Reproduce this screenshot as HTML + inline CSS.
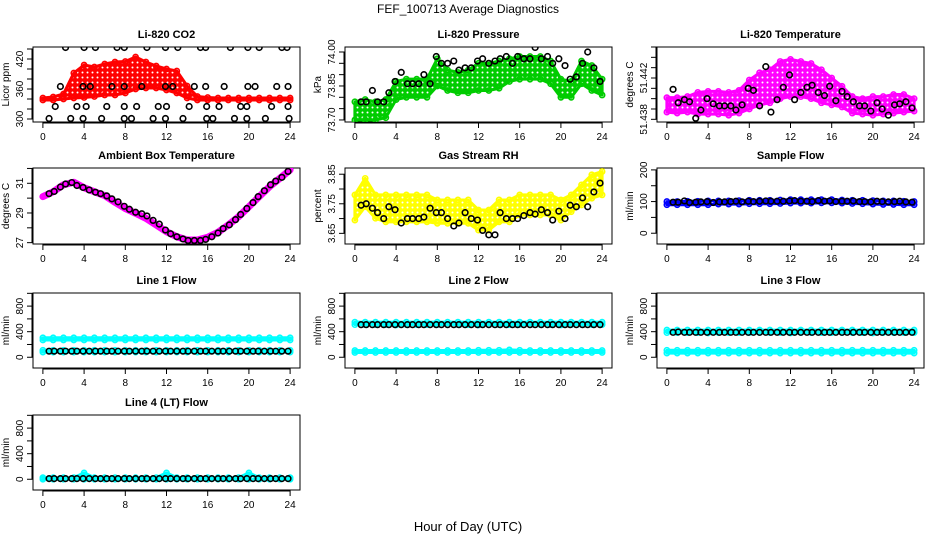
<!DOCTYPE html>
<html><head><meta charset="utf-8"><title>FEF_100713 Average Diagnostics</title>
<style>
html,body{margin:0;padding:0;background:#fff;}
svg{display:block;font-family:"Liberation Sans",Arial,sans-serif;}
</style></head>
<body>
<svg id="chart" width="936" height="540" viewBox="0 0 936 540" xmlns="http://www.w3.org/2000/svg">
<defs id="defs"></defs>
<text x="468" y="13" font-size="12" text-anchor="middle">FEF_100713  Average Diagnostics</text>
<text x="468" y="531" font-size="13" text-anchor="middle">Hour of Day (UTC)</text>
</svg>
<script>
// ---- data ----
const hours = [0,1,2,3,4,5,6,7,8,9,10,11,12,13,14,15,16,17,18,19,20,21,22,23,24];
const xTicks = [0,4,8,12,16,20,24];
const blkT = [0.6,1.1,1.7,2.2,2.8,3.3,3.9,4.5,5.1,5.6,6.2,6.7,7.3,7.9,8.4,9.0,9.6,10.1,10.7,11.3,11.9,12.4,13.0,13.6,14.1,14.7,15.3,15.8,16.4,17.0,17.5,18.1,18.7,19.2,19.8,20.4,20.9,21.5,22.1,22.6,23.2,23.8];

const co2Lo = [338,338,340,342,343,345,348,348,352,360,362,362,358,352,342,338,338,338,338,338,338,338,338,338,338];
const co2Hi = [342,344,350,392,408,404,410,414,415,424,414,406,400,396,366,345,343,342,342,342,342,342,342,342,342];
const co2BlkT = [2.2,4.0,5.1,7.2,7.9,10.1,11.9,13.1,15.3,15.8,18.2,19.9,21.0,23.2,23.7, 1.7,3.9,4.6,6.7,7.9,9.6,11.9,12.6,14.7,15.8,17.6,19.9,20.6,22.7,23.8, 1.2,3.3,4.2,6.2,7.9,9.1,11.2,12.0,14.2,15.9,17.1,19.2,19.8,22.2,23.8, 0.6,2.7,3.9,5.7,7.9,8.6,10.7,11.9,13.6,15.9,16.5,18.6,19.8,21.6,23.9];
const co2BlkV = [443,443,443,443,443,443,443,443,443,443,443,443,443,443,443, 365,365,365,365,365,365,365,365,365,365,365,365,365,365,365, 325,325,325,325,325,325,325,325,325,325,325,325,325,325,325, 301,301,301,301,301,301,301,301,301,301,301,301,301,301,301];

const presLo = [73.70,73.70,73.70,73.71,73.79,73.80,73.80,73.80,73.85,73.83,73.82,73.82,73.83,73.83,73.84,73.87,73.88,73.88,73.88,73.86,73.80,73.80,73.86,73.83,73.81];
const presHi = [73.78,73.79,73.78,73.79,73.87,73.88,73.88,73.88,73.97,73.92,73.91,73.92,73.95,73.95,73.96,73.97,73.98,73.98,73.98,73.96,73.88,73.87,73.96,73.94,73.88];
const presBlk = [73.78,73.78,73.83,73.78,73.78,73.82,73.87,73.91,73.86,73.86,73.86,73.90,73.86,73.98,73.95,73.95,73.96,73.92,73.93,73.93,73.96,73.97,73.95,73.96,73.97,73.98,73.95,73.98,73.97,73.97,74.02,73.97,73.98,73.95,73.97,73.94,73.88,73.89,73.95,74.00,73.93,73.87];

const tempLo = [51.4387,51.4386,51.4387,51.4385,51.4385,51.4385,51.4384,51.4386,51.4390,51.4394,51.4396,51.4400,51.4402,51.4402,51.4400,51.4396,51.4394,51.4392,51.4386,51.4385,51.4384,51.4385,51.4386,51.4387,51.4388];
const tempHi = [51.4401,51.4401,51.4402,51.4406,51.4407,51.4407,51.4406,51.4408,51.4418,51.4425,51.4428,51.4436,51.4438,51.4436,51.4434,51.4428,51.4420,51.4412,51.4402,51.4400,51.4402,51.4402,51.4404,51.4404,51.4400];
const tempBlk = [51.4409,51.4396,51.4399,51.4397,51.4381,51.4389,51.4400,51.4395,51.4393,51.4393,51.4393,51.4389,51.4394,51.4410,51.4408,51.4393,51.4431,51.4387,51.4399,51.4411,51.4423,51.4399,51.4406,51.4411,51.4413,51.4406,51.4403,51.4412,51.4398,51.4407,51.4402,51.4397,51.4393,51.4393,51.4388,51.4396,51.4390,51.4384,51.4394,51.4395,51.4397,51.4391];

const ambVal = [30.1,30.43,30.9,31.07,30.7,30.43,30.17,29.72,29.3,28.98,28.64,28.19,27.74,27.4,27.18,27.18,27.36,27.7,28.19,28.75,29.42,30.1,30.77,31.33,31.9];
const ambBlk = [30.3,30.45,30.75,30.95,31.05,30.85,30.72,30.55,30.4,30.3,30.15,29.95,29.75,29.45,29.25,29.05,28.95,28.8,28.5,28.25,27.85,27.6,27.4,27.25,27.15,27.15,27.15,27.22,27.4,27.65,27.95,28.2,28.55,28.9,29.3,29.7,30.1,30.5,30.9,31.15,31.4,31.8];

const rhLo = [3.695,3.740,3.701,3.689,3.689,3.689,3.689,3.689,3.684,3.684,3.684,3.684,3.661,3.661,3.689,3.689,3.712,3.712,3.712,3.712,3.695,3.723,3.746,3.769,3.780];
const rhHi = [3.780,3.836,3.780,3.780,3.780,3.780,3.780,3.780,3.763,3.763,3.763,3.763,3.729,3.729,3.763,3.763,3.780,3.780,3.780,3.780,3.763,3.780,3.814,3.848,3.859];
const rhBlk = [3.745,3.75,3.735,3.72,3.70,3.74,3.73,3.685,3.70,3.70,3.70,3.705,3.735,3.72,3.72,3.70,3.675,3.685,3.72,3.70,3.695,3.66,3.645,3.645,3.72,3.70,3.70,3.70,3.71,3.72,3.715,3.73,3.72,3.695,3.725,3.70,3.745,3.74,3.77,3.74,3.79,3.82];

const sfLo = [90,90,90,90,90,92,92,92,93,93,93,94,95,95,95,96,96,95,94,93,92,91,91,90,90];
const sfHi = [100,100,101,101,102,102,102,103,104,104,104,105,106,106,106,106,106,105,104,104,103,102,102,101,100];
const sfBlk = [98,98,102,97,98,99,100,97,99,99,100,101,99,101,100,101,102,101,101,101,102,103,101,101,100,103,101,102,100,101,101,102,100,100,99,101,100,99,100,101,99,98];

const l1HiLo = [270,270,270,270,270,270,270,270,270,270,270,270,270,270,270,270,270,270,270,270,270,270,270,270,270];
const l1HiHi = [305,305,305,305,305,305,305,305,305,305,305,305,305,305,305,305,305,305,305,305,305,305,305,305,305];
const l1LoLo = [80,80,80,80,80,80,80,80,80,80,80,80,80,80,80,80,80,80,80,80,80,80,80,80,80];
const l1LoHi = [110,110,110,110,110,110,110,110,110,110,110,110,110,110,110,110,110,110,110,110,110,110,110,110,110];
const l1Blk = [95,95,95,95,95,95,95,95,95,95,95,95,95,95,95,95,95,95,95,95,95,95,95,95,95,95,95,95,95,95,95,95,95,95,95,95,95,95,95,95,95,95];

const l2HiLo = [510,510,510,510,505,510,510,510,510,510,510,510,505,510,510,510,510,510,510,510,505,510,510,510,510];
const l2HiHi = [550,550,550,550,550,550,550,550,550,550,550,550,550,550,550,550,550,550,550,550,550,550,550,550,550];
const l2LoLo = [75,75,75,75,75,75,75,75,75,75,75,75,75,75,75,75,75,75,75,75,75,75,75,75,75];
const l2LoHi = [105,105,105,105,105,105,105,105,105,105,105,105,110,110,110,115,110,105,105,105,105,105,105,105,105];
const l2Blk = [510,510,510,510,510,510,510,510,510,510,510,510,510,510,510,510,510,510,510,510,510,510,510,510,510,510,510,510,510,510,510,510,510,510,510,510,510,510,510,510,510,510];

const l3HiLo = [385,385,385,385,380,385,385,385,385,385,385,385,380,385,385,385,385,385,385,385,380,385,385,385,385];
const l3HiHi = [425,425,425,425,425,425,425,425,425,425,425,425,425,425,425,425,425,425,425,425,425,425,425,425,425];
const l3LoLo = [65,65,65,65,65,65,65,65,65,65,65,65,65,65,65,65,65,65,65,65,65,65,65,65,65];
const l3LoHi = [110,110,110,110,110,110,110,110,110,110,110,110,110,110,110,110,110,110,110,110,110,110,110,110,110];
const l3Blk = [390,395,390,390,390,390,390,390,390,390,390,390,390,390,390,390,390,390,390,390,390,390,390,390,390,390,390,390,390,390,390,390,390,390,390,390,390,390,390,390,390,390];

const l4Lo = [0,0,0,0,0,0,0,0,0,0,0,0,0,0,0,0,0,0,0,0,0,0,0,0,0];
const l4Hi = [25,25,25,25,100,25,25,25,25,25,25,25,100,25,25,25,25,25,25,25,100,25,25,25,25];
const l4Blk = [10,10,10,10,10,10,10,10,10,10,10,10,10,10,10,10,10,10,10,10,10,10,10,10,10,10,10,10,10,10,10,10,10,10,10,10,10,10,10,10,10,10];

// ---- drawing ----
const NS = "http://www.w3.org/2000/svg";
const svg = document.getElementById('chart');
const defs = document.getElementById('defs');
function mk(tag, attrs, parent){
  const e = document.createElementNS(NS, tag);
  for (const k in attrs) e.setAttribute(k, attrs[k]);
  (parent||svg).appendChild(e);
  return e;
}
const patIds = {};
function pattern(color){
  if (patIds[color]) return patIds[color];
  const id = 'pat' + Object.keys(patIds).length;
  const pt = mk('pattern', {id:id, width:5, height:5, patternUnits:'userSpaceOnUse'}, defs);
  mk('rect', {x:0, y:0, width:5, height:5, fill:color}, pt);
  mk('circle', {cx:2.5, cy:2.5, r:1, fill:'#fff'}, pt);
  patIds[color] = id;
  return id;
}
const cols = [[33,300],[345,612],[657,924]];
const rows = [[47,122],[168,244],[293,368],[415,490]];
const X0 = -0.96, X1 = 24.96;

function panel(ci, ri, title, ylab, yMin, yMax, yTicks, yLabels){
  const [L,R] = cols[ci], [T,B] = rows[ri];
  const g = mk('g', {});
  
  
  const xs = h => L + (h - X0) / (X1 - X0) * (R - L);
  const ys = v => B - (v - yMin) / (yMax - yMin) * (B - T);
  const t = mk('text', {x:(L+R)/2, y:T-9, 'font-size':11, 'font-weight':'bold', 'text-anchor':'middle'}, g);
  t.textContent = title;
  
  
  const box = mk('rect', {x:L, y:T, width:R-L, height:B-T, fill:'none', stroke:'#000', 'stroke-width':1}, g);
  
  
  const xa = mk('g', {}, g);
  
  
  mk('line', {x1:xs(0), x2:xs(24), y1:B+1, y2:B+1, stroke:'#000'}, xa);
  xTicks.forEach(h => {
    mk('line', {x1:xs(h), x2:xs(h), y1:B, y2:B+6, stroke:'#000'}, xa);
    const tl = mk('text', {x:xs(h), y:B+18, 'font-size':10, 'text-anchor':'middle'}, xa);
    tl.textContent = h;
    
    
  });
  const ya = mk('g', {}, g);
  
  
  mk('line', {x1:L-1, x2:L-1, y1:ys(yTicks[0]), y2:ys(yTicks[yTicks.length-1]), stroke:'#000'}, ya);
  yTicks.forEach(v => mk('line', {x1:L-6, x2:L, y1:ys(v), y2:ys(v), stroke:'#000'}, ya));
  yLabels.forEach(v => {
    const yl = mk('text', {x:0, y:0, 'font-size':10, 'text-anchor':'middle', transform:`translate(${L-10},${ys(v)}) rotate(-90)`}, ya);
    yl.textContent = v;
    
    
  });
  const yt = mk('text', {x:0, y:0, 'font-size':10, 'text-anchor':'middle', transform:`translate(${L-24},${(T+B)/2}) rotate(-90)`}, ya);
  yt.textContent = ylab;
  
  
  const clip = 'clip' + ci + ri;
  const cp = mk('clipPath', {id:clip}, g);
  mk('rect', {x:L, y:T, width:R-L, height:B-T}, cp);
  const data = mk('g', {'clip-path':`url(#${clip})`}, g);
  return {xs, ys, data};
}
function band(p, lo, hi, color, name){
  const pts = hours.map((h,i)=>`${p.xs(h)},${p.ys(hi[i])}`).concat(hours.slice().reverse().map((h,j)=>{const i=hours.length-1-j;return `${p.xs(h)},${p.ys(lo[i])}`;}));
  const pg = mk('polygon', {points:pts.join(' '), fill:`url(#${pattern(color)})`, stroke:color, 'stroke-width':3, 'stroke-linejoin':'round'}, p.data);
  
  
  hours.forEach((h,i)=>{
    [lo[i],hi[i]].forEach(v=>{
      const c = mk('circle', {cx:p.xs(h), cy:p.ys(v), r:2.6, fill:'none', stroke:color, 'stroke-width':1.6}, p.data);
      
      
    });
  });
}
function line(p, vals, color, name){
  const pl = mk('polyline', {points:hours.map((h,i)=>`${p.xs(h)},${p.ys(vals[i])}`).join(' '), fill:'none', stroke:color, 'stroke-width':7, 'stroke-linejoin':'round', 'stroke-linecap':'round'}, p.data);
  
  
}
function dots(p, ts, vals, name){
  ts.forEach((h,i)=>{
    const c = mk('circle', {cx:p.xs(h), cy:p.ys(vals[i]), r:2.8, fill:'none', stroke:'#000', 'stroke-width':1.6}, p.data);
    
    
  });
}
const flowTicks = [0,200,400,600,800,1000], flowLabels = [0,400,800];

let p;
p = panel(0,0,'Li-820 CO2','Licor ppm',294,444,[300,320,340,360,380,400,420,440],[300,360,420]);
band(p, co2Lo, co2Hi, '#ff0000', 'co2-series');
dots(p, co2BlkT, co2BlkV, 'co2-average-point');

p = panel(1,0,'Li-820 Pressure','kPa',73.691,74.022,[73.70,73.75,73.80,73.85,73.90,73.95,74.00],['73.70','73.85','74.00']);
band(p, presLo, presHi, '#00cc00', 'pressure-series');
dots(p, blkT, presBlk, 'pressure-average-point');

p = panel(2,0,'Li-820 Temperature','degrees C',51.43774,51.4450,[51.438,51.439,51.440,51.441,51.442,51.443,51.444,51.445],['51.438','51.442']);
band(p, tempLo, tempHi, '#ff00ff', 'temperature-series');
dots(p, blkT, tempBlk, 'temperature-average-point');

p = panel(0,1,'Ambient Box Temperature','degrees C',26.91,32.03,[27,28,29,30,31,32],[27,29,31]);
line(p, ambVal, '#ff00ff', 'ambient-series');
dots(p, blkT, ambBlk, 'ambient-average-point');

p = panel(1,1,'Gas Stream RH','percent',3.614,3.871,[3.65,3.70,3.75,3.80,3.85],['3.65','3.75','3.85']);
band(p, rhLo, rhHi, '#ffff00', 'rh-series');
dots(p, blkT, rhBlk, 'rh-average-point');

p = panel(2,1,'Sample Flow','ml/min',-34,206,[0,50,100,150,200],[0,100,200]);
band(p, sfLo, sfHi, '#0000ff', 'sample-flow-series');
dots(p, blkT, sfBlk, 'sample-flow-average-point');

p = panel(0,2,'Line 1 Flow','ml/min',-168,1005,flowTicks,flowLabels);
band(p, l1HiLo, l1HiHi, '#00ffff', 'line1-high-series');
band(p, l1LoLo, l1LoHi, '#00ffff', 'line1-low-series');
dots(p, blkT, l1Blk, 'line1-average-point');

p = panel(1,2,'Line 2 Flow','ml/min',-168,1005,flowTicks,flowLabels);
band(p, l2HiLo, l2HiHi, '#00ffff', 'line2-high-series');
band(p, l2LoLo, l2LoHi, '#00ffff', 'line2-low-series');
dots(p, blkT, l2Blk, 'line2-average-point');

p = panel(2,2,'Line 3 Flow','ml/min',-168,1005,flowTicks,flowLabels);
band(p, l3HiLo, l3HiHi, '#00ffff', 'line3-high-series');
band(p, l3LoLo, l3LoHi, '#00ffff', 'line3-low-series');
dots(p, blkT, l3Blk, 'line3-average-point');

p = panel(0,3,'Line 4 (LT) Flow','ml/min',-168,1005,flowTicks,flowLabels);
band(p, l4Lo, l4Hi, '#00ffff', 'line4-series');
dots(p, blkT, l4Blk, 'line4-average-point');
</script>
</body></html>
